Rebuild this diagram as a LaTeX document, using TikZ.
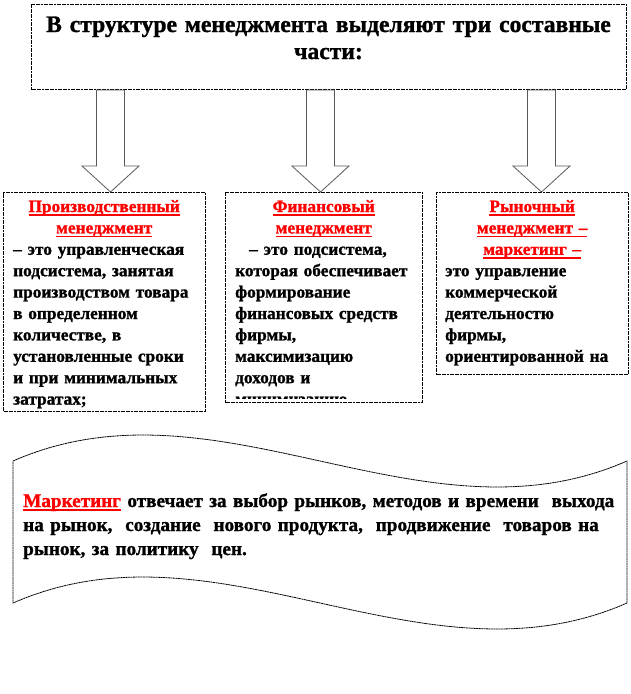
\documentclass[tikz,border=0pt]{standalone}
\usepackage{fontspec}
\setmainfont{Liberation Serif}[BoldFeatures={FakeBold=1.2}]
\newcommand{\hd}[1]{\textcolor{red}{\setbox0\hbox{#1}\rlap{\rule[-4pt]{\wd0}{1.8pt}}\box0}}
\newcommand{\blockdown}[2]{%
  \path (#1.south -| #2) coordinate (#2top);
  \draw[blockarr] ([xshift=-14pt]#2top) -- ([xshift=-14pt,yshift=26pt]#2)
    -- ([xshift=-28.5pt,yshift=26pt]#2) -- (#2) -- ([xshift=28.5pt,yshift=26pt]#2)
    -- ([xshift=14pt,yshift=26pt]#2) -- ([xshift=14pt]#2top) -- cycle;}

\begin{document}
\begin{tikzpicture}[x=1pt, y=-1pt,
  box/.style={draw, line width=1pt, dash pattern=on 2pt off 0.6pt, inner sep=0pt},
  txt/.style={inner sep=0pt, font=\bfseries\fontsize{17.3}{21.4}\selectfont},
  blockarr/.style={draw=black!65, fill=white, line width=0.8pt}]
  \useasboundingbox (0,0) rectangle (630,694);

  \node[box, anchor=north west, minimum width=595, minimum height=85] (title) at (31,4) {};
  \node[txt, font=\bfseries\fontsize{23.6}{27}\selectfont, text width=590, align=center, anchor=base]
    (titletxt) at (328.5,32) {В структуре менеджмента выделяют три составные\\части:};

  \node[box, anchor=north west, minimum width=202, minimum height=219] (prod) at (3,192) {};
  \node[box, anchor=north west, minimum width=197, minimum height=210] (fin) at (225,192) {};
  \node[box, anchor=north west, minimum width=192, minimum height=182] (mark) at (436,192) {};

  \coordinate (prodtip) at ([xshift=6pt]prod.north);
  \coordinate (fintip) at ([xshift=-3.5pt]fin.north);
  \coordinate (marktip) at ([xshift=9pt]mark.north);
  \blockdown{title}{prodtip}
  \blockdown{title}{fintip}
  \blockdown{title}{marktip}

  \begin{scope}
    \clip (prod.north west) rectangle (prod.south east);
    \node[txt, text width=182, anchor=base west] (prodtxt) at ([xshift=10pt,yshift=-20pt]prod.north west)
      {\centering\hd{Производственный}\\\hd{менеджмент}\par
       \raggedright – это управленческая\\подсистема, занятая\\производством товара\\в определенном\\количестве, в\\установленные сроки\\и при минимальных\\затратах;};
  \end{scope}
  \begin{scope}
    \clip (fin.north west) rectangle ([yshift=4.5pt]fin.south east);
    \node[txt, text width=177, anchor=base west] (fintxt) at ([xshift=10pt,yshift=-20pt]fin.north west)
      {\centering\hd{Финансовый}\\\hd{менеджмент}\par
       \raggedright\hspace*{14pt}– это подсистема,\\которая обеспечивает\\формирование\\финансовых средств\\фирмы,\\максимизацию\\доходов и\\минимизацию расходов};
  \end{scope}
  \begin{scope}
    \clip (mark.north west) rectangle (mark.south east);
    \node[txt, text width=174, anchor=base west] (marktxt) at ([xshift=9pt,yshift=-20pt]mark.north west)
      {\centering\hd{Рыночный}\\\hd{менеджмент –}\\\hd{маркетинг –}\par
       \raggedright это управление\\коммерческой\\деятельностю\\фирмы,\\ориентированной на};
  \end{scope}

  % wave banner
  \draw[line width=0.8pt, dash pattern=on 2pt off 0.5pt]
    (13,461) .. controls (218,371) and (422,551) .. (627,461) -- (627,603)
    .. controls (422,693) and (218,513) .. (13,603) -- cycle;
  \node[txt, font=\bfseries\fontsize{19.2}{24}\selectfont, text width=600, align=left, anchor=base west]
    (banner) at (23,507) {\hd{Маркетинг} отвечает за выбор рынков, методов и времени\ \ выхода\\
    на рынок,\ \ создание\ \ нового продукта,\ \ продвижение\ \ товаров на\\
    рынок, за политику\ \ цен.};
\end{tikzpicture}
\end{document}
